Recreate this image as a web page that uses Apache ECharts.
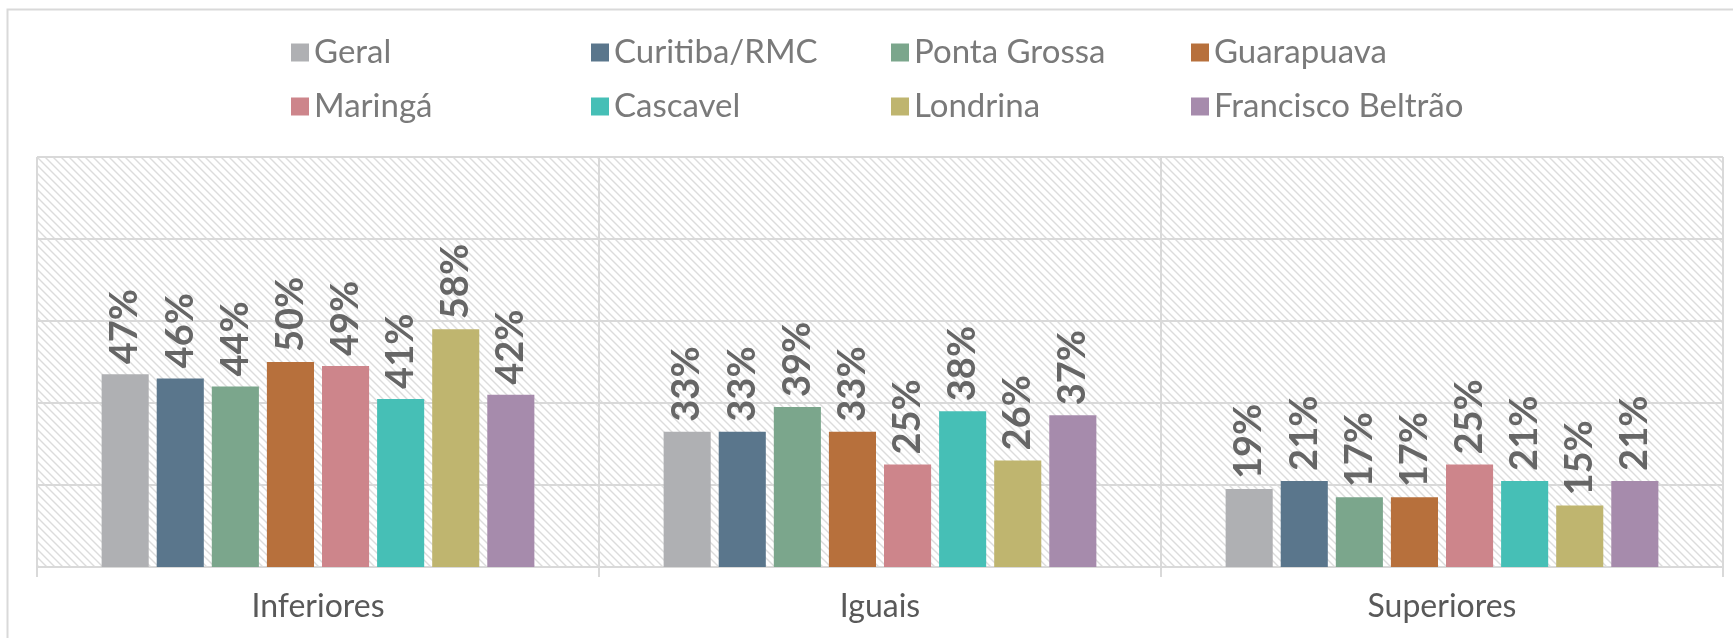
<!DOCTYPE html>
<html><head><meta charset="utf-8">
<script src="https://cdn.jsdelivr.net/npm/echarts@6/dist/echarts.min.js"></script>
<style>html,body{margin:0;padding:0;background:#fff}#c{width:1733px;height:638px}</style>
</head><body><div id="c"></div>
<script>
var categories = ['Inferiores', 'Iguais', 'Superiores'];
var seriesNames = ['Geral', 'Curitiba/RMC', 'Ponta Grossa', 'Guarapuava', 'Maringá', 'Cascavel', 'Londrina', 'Francisco Beltrão'];
var geral = [47, 33, 19];
var curitiba = [46, 33, 21];
var pontaGrossa = [44, 39, 17];
var guarapuava = [50, 33, 17];
var maringa = [49, 25, 25];
var cascavel = [41, 38, 21];
var londrina = [58, 26, 15];
var franciscoBeltrao = [42, 37, 21];
var colors = ['#afb0b3', '#5a768c', '#7ba68c', '#b7703c', '#cd858b', '#46bfb6', '#bfb56f', '#a68bac'];
var values = [geral, curitiba, pontaGrossa, guarapuava, maringa, cascavel, londrina, franciscoBeltrao];

var pc = document.createElement('canvas');
pc.width = 8; pc.height = 8;
var g = pc.getContext('2d');
g.fillStyle = '#ffffff'; g.fillRect(0, 0, 8, 8);
g.strokeStyle = '#dcdcdc'; g.lineWidth = 1.4;
g.beginPath();
g.moveTo(-2, -2); g.lineTo(10, 10);
g.moveTo(-10, -2); g.lineTo(2, 10);
g.moveTo(6, -2); g.lineTo(18, 10);
g.stroke();

var font = 'Lato, "Open Sans", sans-serif';
var chart = echarts.init(document.getElementById('c'));
var series = seriesNames.map(function (n, i) {
  return {
    name: n, type: 'bar', data: values[i],
    barGap: '17%', barCategoryGap: '23%',
    itemStyle: { color: colors[i] },
    label: {
      show: true, position: 'top', rotate: 90, distance: 10,
      align: 'left', verticalAlign: 'middle',
      formatter: '{c}%', color: '#666666', fontWeight: 'bold',
      fontSize: 38, fontFamily: font
    }
  };
});
var legendText = { color: '#7a7a7a', fontSize: 33, fontFamily: font };
var legends = seriesNames.map(function (n, i) {
  return { data: [n], left: 286 + 300 * (i % 4), top: i < 4 ? 31 : 85, itemWidth: 18, itemHeight: 18,
    itemGap: 0, icon: 'rect', textStyle: legendText };
});
chart.setOption({
  animation: false,
  color: colors,
  graphic: [{ type: 'rect', shape: { x: 7.5, y: 9.5, width: 1760, height: 700 }, style: { fill: 'none', stroke: '#d9d9d9', lineWidth: 2 }, z: -10 }],
  legend: legends,
  grid: { left: 37, right: 10, top: 157, bottom: 71, show: true, borderColor: '#d9d9d9', borderWidth: 1,
    backgroundColor: { image: pc, repeat: 'repeat' } },
  xAxis: {
    type: 'category', data: categories,
    axisLine: { lineStyle: { color: '#d9d9d9', width: 2 } },
    axisTick: { show: true, length: 10, lineStyle: { color: '#d9d9d9', width: 2 } },
    splitLine: { show: true, lineStyle: { color: '#d9d9d9', width: 2 } },
    axisLabel: { color: '#595959', fontSize: 32, fontFamily: font, margin: 24 }
  },
  yAxis: {
    type: 'value', min: 0, max: 100, interval: 20,
    axisLabel: { show: false }, axisLine: { show: false }, axisTick: { show: false },
    splitLine: { lineStyle: { color: '#d9d9d9', width: 2 } }
  },
  series: series
});
</script></body></html>
